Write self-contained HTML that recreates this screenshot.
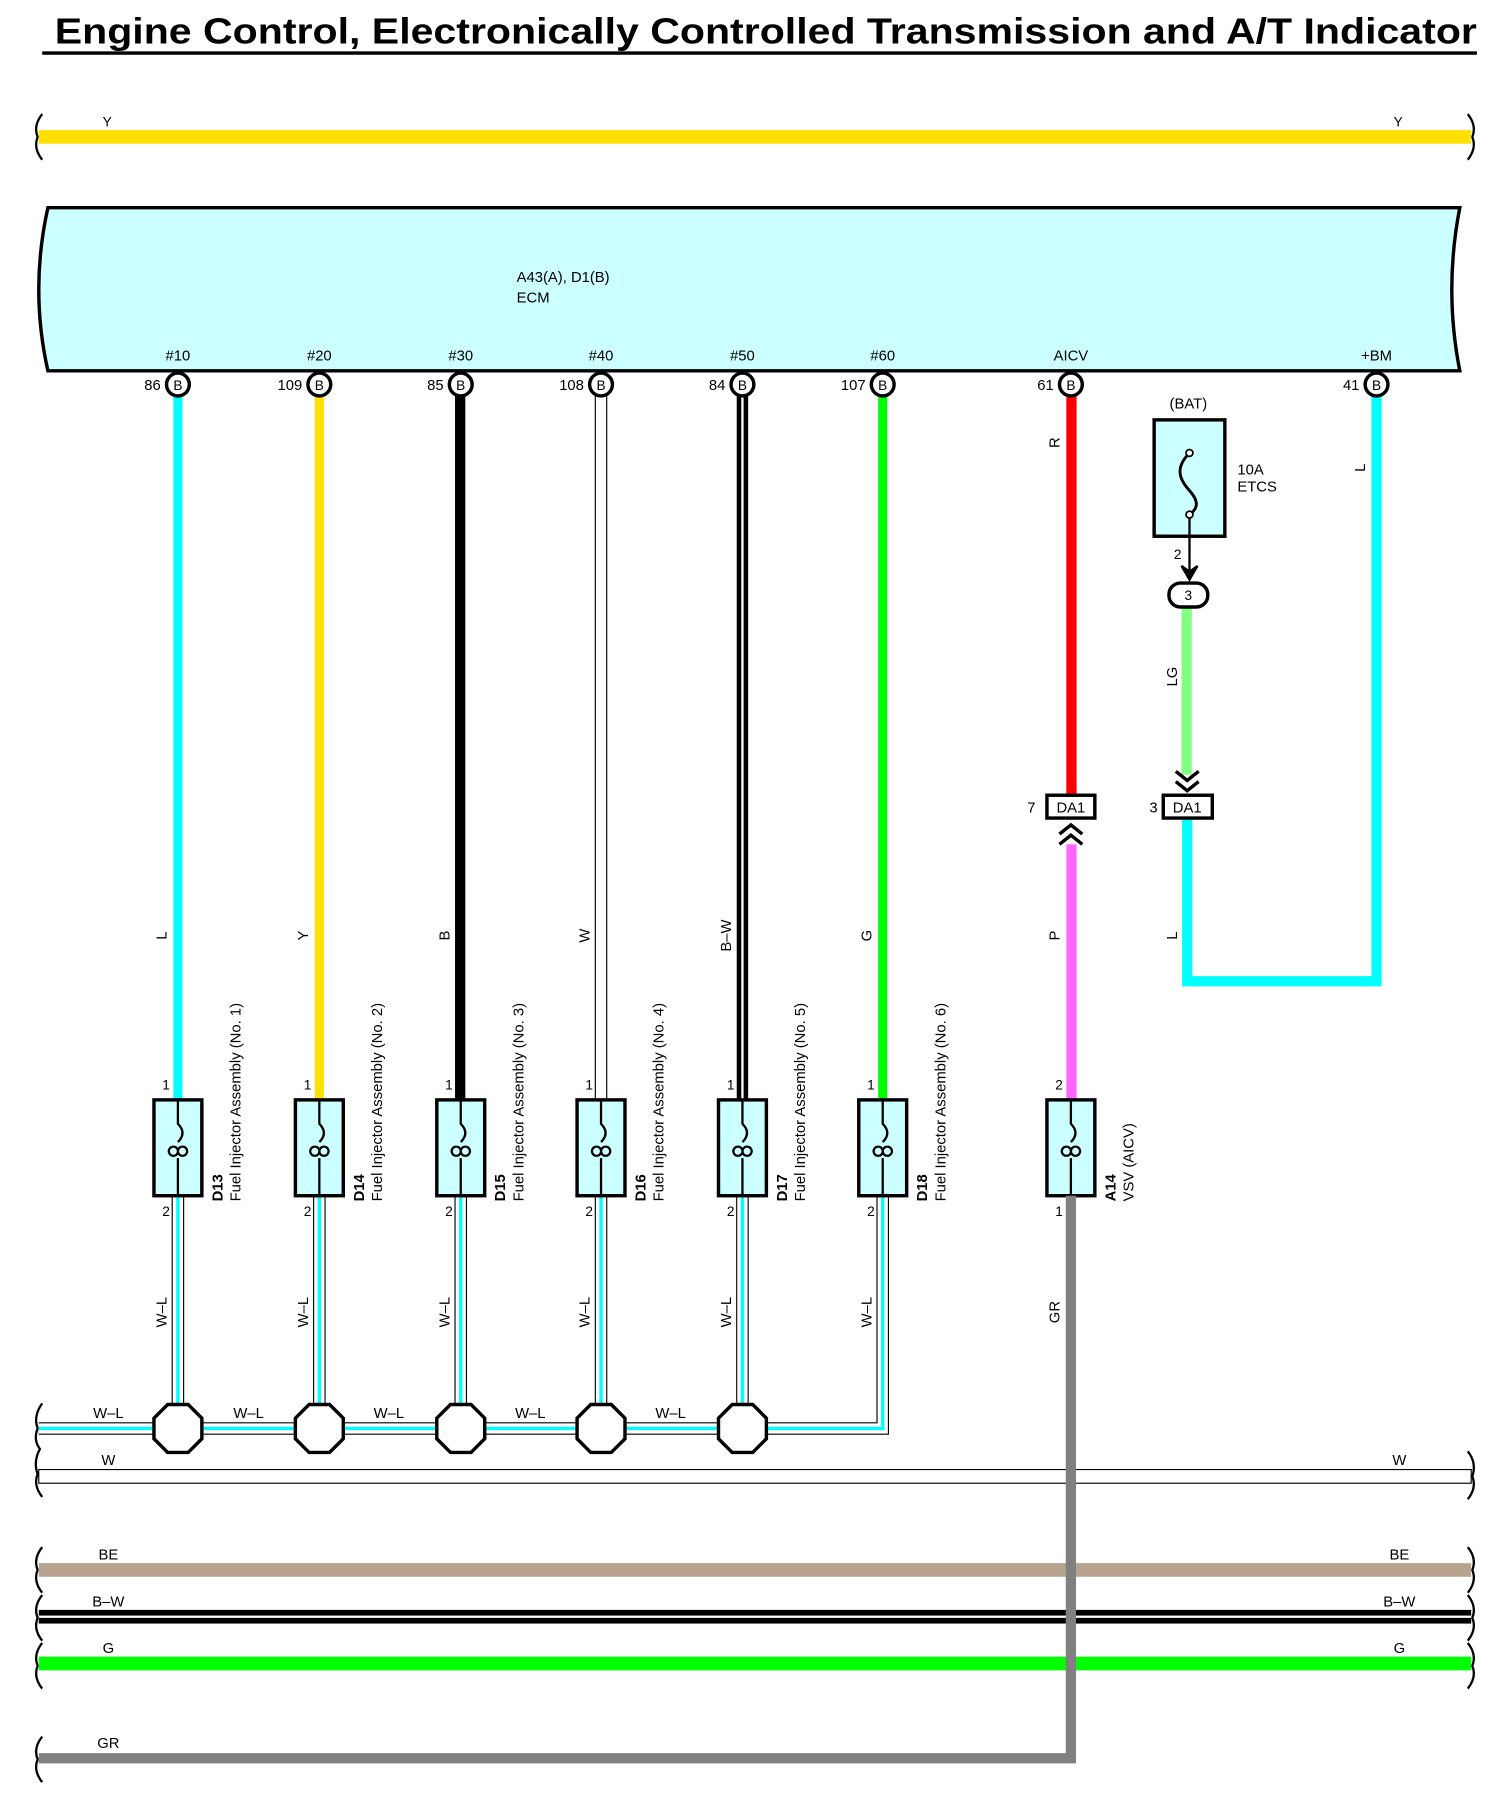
<!DOCTYPE html>
<html><head><meta charset="utf-8"><style>
html,body{margin:0;padding:0;background:#fff}
svg{display:block}
text{font-family:"Liberation Sans",Arial,sans-serif;fill:#000}
</style></head><body>
<svg width="1494" height="1797" viewBox="0 0 1310 1575" preserveAspectRatio="none" xmlns="http://www.w3.org/2000/svg">
<text x="48" y="38" font-size="32" font-weight="bold" textLength="1247" lengthAdjust="spacingAndGlyphs">Engine Control, Electronically Controlled Transmission and A/T Indicator</text>
<rect x="37" y="45" width="1258" height="3" fill="#000"/>

<g fill="none" stroke="#000" stroke-width="2">
<path d="M37 100 Q29 110 33 120 Q29 130 37 140"/>
<path d="M1287 100 Q1295 110 1291 120 Q1295 130 1287 140"/>
<path d="M37 1230 Q29 1241 33 1252 Q29 1262 35 1270 Q29 1281 33 1292 Q29 1302 37 1312"/>
<path d="M1287 1272 Q1295 1282 1291 1294 Q1295 1304 1287 1314"/>
<path d="M37 1356 Q29 1366 33 1376 Q29 1386 37 1396"/>
<path d="M1287 1356 Q1295 1366 1291 1376 Q1295 1386 1287 1396"/>
<path d="M37 1398 Q29 1408 33 1418 Q29 1428 37 1438"/>
<path d="M1287 1398 Q1295 1408 1291 1418 Q1295 1428 1287 1438"/>
<path d="M37 1440 Q29 1450 33 1460 Q29 1470 37 1480"/>
<path d="M1287 1440 Q1295 1450 1291 1460 Q1295 1470 1287 1480"/>
<path d="M37 1522 Q29 1532 33 1542 Q29 1552 37 1562"/>
</g>

<!-- Y bus -->
<rect x="34" y="114" width="1256" height="12" fill="#ffe000"/>
<text x="90" y="111" font-size="12">Y</text><text x="1222" y="111" font-size="12">Y</text>

<!-- ECM -->
<path d="M42 182 L1280 182 Q1266 254 1280 325 L42 325 Q26 254 42 182 Z" fill="#ccffff" stroke="#000" stroke-width="3"/>
<text x="453" y="247" font-size="13">A43(A), D1(B)</text>
<text x="453" y="265" font-size="13">ECM</text>
<g font-size="13" text-anchor="middle">
<text x="156" y="316">#10</text><text x="280" y="316">#20</text><text x="404" y="316">#30</text>
<text x="527" y="316">#40</text><text x="651" y="316">#50</text><text x="774" y="316">#60</text>
<text x="939" y="316">AICV</text><text x="1207" y="316">+BM</text>
</g>

<!-- vertical wires top -->
<rect x="152" y="345" width="8" height="620" fill="#00ffff"/>
<rect x="276" y="345" width="8" height="620" fill="#ffe000"/>
<rect x="399" y="345" width="9" height="620" fill="#000"/>
<rect x="522" y="345" width="10" height="620" fill="#fff" stroke="#000" stroke-width="1"/>
<rect x="646" y="345" width="10" height="620" fill="#000"/><rect x="650" y="345" width="2" height="620" fill="#fff"/>
<rect x="770" y="345" width="8" height="620" fill="#00ff00"/>
<rect x="935" y="345" width="9" height="352" fill="#ff0000"/>
<rect x="935" y="740" width="9" height="225" fill="#ff66ff"/>
<rect x="1036" y="532" width="9" height="147" fill="#80ff80"/>
<path d="M1207 345 L1207 860 L1041 860 L1041 717" fill="none" stroke="#00ffff" stroke-width="9"/>

<!-- pins -->
<g font-size="13">
<g fill="#fff" stroke="#000" stroke-width="3">
<circle cx="156" cy="337" r="10"/><circle cx="280" cy="337" r="10"/><circle cx="404" cy="337" r="10"/><circle cx="527" cy="337" r="10"/>
<circle cx="651" cy="337" r="10"/><circle cx="774" cy="337" r="10"/><circle cx="939" cy="337" r="10"/><circle cx="1207" cy="337" r="10"/>
</g>
<g text-anchor="middle" font-size="12">
<text x="156" y="342">B</text><text x="280" y="342">B</text><text x="404" y="342">B</text><text x="527" y="342">B</text>
<text x="651" y="342">B</text><text x="774" y="342">B</text><text x="939" y="342">B</text><text x="1207" y="342">B</text>
</g>
<g text-anchor="end">
<text x="141" y="342">86</text><text x="265" y="342">109</text><text x="389" y="342">85</text><text x="512" y="342">108</text>
<text x="636" y="342">84</text><text x="759" y="342">107</text><text x="924" y="342">61</text><text x="1192" y="342">41</text>
</g>
</g>

<!-- wire labels rotated -->
<g font-size="13" text-anchor="middle">
<text transform="translate(146,820) rotate(-90)">L</text>
<text transform="translate(270,820) rotate(-90)">Y</text>
<text transform="translate(394,820) rotate(-90)">B</text>
<text transform="translate(517,820) rotate(-90)">W</text>
<text transform="translate(641,820) rotate(-90)">B–W</text>
<text transform="translate(764,820) rotate(-90)">G</text>
<text transform="translate(929,388) rotate(-90)">R</text>
<text transform="translate(929,820) rotate(-90)">P</text>
<text transform="translate(929,1150) rotate(-90)">GR</text>
<text transform="translate(1197,410) rotate(-90)">L</text>
<text transform="translate(1032,820) rotate(-90)">L</text>
<text transform="translate(1032,593) rotate(-90)">LG</text>
<text transform="translate(146,1150) rotate(-90)">W–L</text>
<text transform="translate(270,1150) rotate(-90)">W–L</text>
<text transform="translate(394,1150) rotate(-90)">W–L</text>
<text transform="translate(517,1150) rotate(-90)">W–L</text>
<text transform="translate(641,1150) rotate(-90)">W–L</text>
<text transform="translate(764,1150) rotate(-90)">W–L</text>
</g>

<!-- W-L lower wires -->
<g fill="none">
<path d="M156 1048 V1252 M280 1048 V1252 M404 1048 V1252 M527 1048 V1252 M651 1048 V1252 M774 1048 V1252 H34" stroke="#000" stroke-width="11"/>
<path d="M156 1048 V1252 M280 1048 V1252 M404 1048 V1252 M527 1048 V1252 M651 1048 V1252 M774 1048 V1252 H34" stroke="#fff" stroke-width="9"/>
<path d="M156 1048 V1252 M280 1048 V1252 M404 1048 V1252 M527 1048 V1252 M651 1048 V1252 M774 1048 V1252 H34" stroke="#00ffff" stroke-width="3"/>
</g>
<g font-size="13" text-anchor="middle">
<text x="95" y="1243">W–L</text><text x="218" y="1243">W–L</text><text x="341" y="1243">W–L</text><text x="465" y="1243">W–L</text><text x="588" y="1243">W–L</text>
</g>
<!-- splices -->
<g fill="#fff" stroke="#000" stroke-width="3">
<polygon points="147,1231 165,1231 177,1243 177,1261 165,1273 147,1273 135,1261 135,1243"/>
<polygon points="271,1231 289,1231 301,1243 301,1261 289,1273 271,1273 259,1261 259,1243"/>
<polygon points="395,1231 413,1231 425,1243 425,1261 413,1273 395,1273 383,1261 383,1243"/>
<polygon points="518,1231 536,1231 548,1243 548,1261 536,1273 518,1273 506,1261 506,1243"/>
<polygon points="642,1231 660,1231 672,1243 672,1261 660,1273 642,1273 630,1261 630,1243"/>
</g>

<!-- injectors -->
<g id="inj">
<g fill="#ccffff" stroke="#000" stroke-width="3">
<rect x="135" y="964" width="42" height="84"/><rect x="259" y="964" width="42" height="84"/><rect x="383" y="964" width="42" height="84"/>
<rect x="506" y="964" width="42" height="84"/><rect x="630" y="964" width="42" height="84"/><rect x="753" y="964" width="42" height="84"/>
<rect x="918" y="964" width="42" height="84"/>
</g>
<g fill="none" stroke="#000" stroke-width="2">
<path d="M156 964 V985 q8 8 0 16 M156 1015 V1048 M152 1005 a4 4 0 1 0 .1 0 M160 1005 a4 4 0 1 0 .1 0"/>
<path d="M280 964 V985 q8 8 0 16 M280 1015 V1048 M276 1005 a4 4 0 1 0 .1 0 M284 1005 a4 4 0 1 0 .1 0"/>
<path d="M404 964 V985 q8 8 0 16 M404 1015 V1048 M400 1005 a4 4 0 1 0 .1 0 M408 1005 a4 4 0 1 0 .1 0"/>
<path d="M527 964 V985 q8 8 0 16 M527 1015 V1048 M523 1005 a4 4 0 1 0 .1 0 M531 1005 a4 4 0 1 0 .1 0"/>
<path d="M651 964 V985 q8 8 0 16 M651 1015 V1048 M647 1005 a4 4 0 1 0 .1 0 M655 1005 a4 4 0 1 0 .1 0"/>
<path d="M774 964 V985 q8 8 0 16 M774 1015 V1048 M770 1005 a4 4 0 1 0 .1 0 M778 1005 a4 4 0 1 0 .1 0"/>
<path d="M939 964 V985 q8 8 0 16 M939 1015 V1048 M935 1005 a4 4 0 1 0 .1 0 M943 1005 a4 4 0 1 0 .1 0"/>
</g>
</g>
<g font-size="12" text-anchor="end">
<text x="149" y="955">1</text><text x="273" y="955">1</text><text x="397" y="955">1</text><text x="520" y="955">1</text><text x="644" y="955">1</text><text x="767" y="955">1</text><text x="932" y="955">2</text>
<text x="149" y="1066">2</text><text x="273" y="1066">2</text><text x="397" y="1066">2</text><text x="520" y="1066">2</text><text x="644" y="1066">2</text><text x="767" y="1066">2</text><text x="932" y="1066">1</text>
</g>
<g font-size="13">
<text transform="translate(195,1053) rotate(-90)"><tspan font-weight="bold">D13</tspan></text>
<text transform="translate(211,1053) rotate(-90)">Fuel Injector Assembly (No. 1)</text>
<text transform="translate(319,1053) rotate(-90)"><tspan font-weight="bold">D14</tspan></text>
<text transform="translate(335,1053) rotate(-90)">Fuel Injector Assembly (No. 2)</text>
<text transform="translate(443,1053) rotate(-90)"><tspan font-weight="bold">D15</tspan></text>
<text transform="translate(459,1053) rotate(-90)">Fuel Injector Assembly (No. 3)</text>
<text transform="translate(566,1053) rotate(-90)"><tspan font-weight="bold">D16</tspan></text>
<text transform="translate(582,1053) rotate(-90)">Fuel Injector Assembly (No. 4)</text>
<text transform="translate(690,1053) rotate(-90)"><tspan font-weight="bold">D17</tspan></text>
<text transform="translate(706,1053) rotate(-90)">Fuel Injector Assembly (No. 5)</text>
<text transform="translate(813,1053) rotate(-90)"><tspan font-weight="bold">D18</tspan></text>
<text transform="translate(829,1053) rotate(-90)">Fuel Injector Assembly (No. 6)</text>
<text transform="translate(978,1053) rotate(-90)"><tspan font-weight="bold">A14</tspan></text>
<text transform="translate(994,1053) rotate(-90)">VSV (AICV)</text>
</g>

<!-- DA1 connectors -->
<rect x="918" y="697" width="42" height="20" fill="#fff" stroke="#000" stroke-width="3"/>
<text x="939" y="712" font-size="13" text-anchor="middle">DA1</text>
<text x="908" y="712" font-size="13" text-anchor="end">7</text>
<path d="M929 731 L939 723 L949 731 M929 740 L939 732 L949 740" fill="none" stroke="#000" stroke-width="3"/>
<rect x="1020" y="697" width="43" height="20" fill="#fff" stroke="#000" stroke-width="3"/>
<text x="1041" y="712" font-size="13" text-anchor="middle">DA1</text>
<text x="1015" y="712" font-size="13" text-anchor="end">3</text>
<path d="M1031 676 L1041 684 L1051 676 M1031 685 L1041 693 L1051 685" fill="none" stroke="#000" stroke-width="3"/>

<!-- fuse -->
<text x="1042" y="358" font-size="13" text-anchor="middle">(BAT)</text>
<rect x="1012" y="368" width="62" height="102" fill="#ccffff" stroke="#000" stroke-width="3"/>
<path d="M1043 397 C1030 410 1034 420 1043 430 C1052 440 1050 446 1043 451" fill="none" stroke="#000" stroke-width="2.5"/>
<circle cx="1043" cy="397" r="3" fill="#fff" stroke="#000" stroke-width="1.5"/>
<circle cx="1043" cy="451" r="3" fill="#fff" stroke="#000" stroke-width="1.5"/>
<path d="M1043 454 V505" stroke="#000" stroke-width="2"/>
<path d="M1036 496 L1043 508 L1050 496 L1043 501 Z" fill="#000" stroke="#000" stroke-width="2"/>
<text x="1036" y="490" font-size="12" text-anchor="end">2</text>
<rect x="1025" y="511" width="34" height="21" rx="10" fill="#fff" stroke="#000" stroke-width="3"/>
<text x="1042" y="526" font-size="12" text-anchor="middle">3</text>
<text x="1085" y="416" font-size="13">10A</text>
<text x="1085" y="431" font-size="13">ETCS</text>

<!-- W bus -->
<rect x="34" y="1288" width="1256" height="12" fill="#fff" stroke="#000" stroke-width="1"/>
<text x="95" y="1284" font-size="13" text-anchor="middle">W</text><text x="1227" y="1284" font-size="13" text-anchor="middle">W</text>
<!-- BE -->
<rect x="34" y="1370" width="1256" height="12" fill="#b8a48e"/>
<text x="95" y="1367" font-size="13" text-anchor="middle">BE</text><text x="1227" y="1367" font-size="13" text-anchor="middle">BE</text>
<!-- B-W -->
<rect x="34" y="1411" width="1256" height="12" fill="#000"/><rect x="34" y="1416" width="1256" height="2" fill="#fff"/>
<text x="95" y="1408" font-size="13" text-anchor="middle">B–W</text><text x="1227" y="1408" font-size="13" text-anchor="middle">B–W</text>
<!-- G -->
<rect x="34" y="1452" width="1256" height="12" fill="#00ff00"/>
<text x="95" y="1449" font-size="13" text-anchor="middle">G</text><text x="1227" y="1449" font-size="13" text-anchor="middle">G</text>
<!-- GR -->
<path d="M34 1541 H939 V1048" fill="none" stroke="#808080" stroke-width="9"/>
<text x="95" y="1532" font-size="13" text-anchor="middle">GR</text>
</svg>
</body></html>
